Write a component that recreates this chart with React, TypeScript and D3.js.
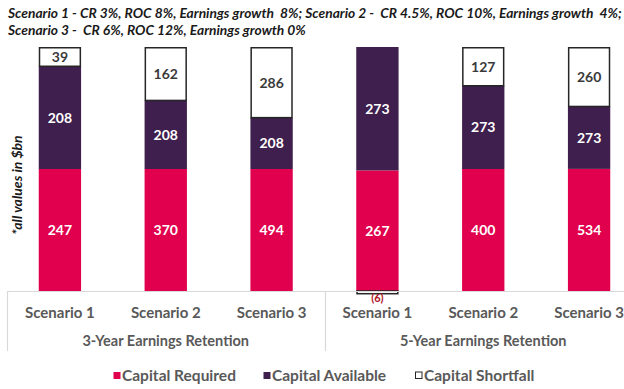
import React from "react";
import * as d3 from "d3";

const scenarios = ["Scenario 1", "Scenario 2", "Scenario 3", "Scenario 1", "Scenario 2", "Scenario 3"];
const groups = ["3-Year Earnings Retention", "5-Year Earnings Retention"];
const required = [247, 370, 494, 267, 400, 534];
const available = [208, 208, 208, 273, 273, 273];
const shortfall = [39, 162, 286, -6, 127, 260];
const seriesNames = ["Capital Required", "Capital Available", "Capital Shortfall"];
const titleLines = [
  "Scenario 1 - CR 3%, ROC 8%, Earnings growth  8%; Scenario 2 -  CR 4.5%, ROC 10%, Earnings growth  4%;",
  "Scenario 3 -  CR 6%, ROC 12%, Earnings growth 0%",
];

const W = 624;
const H = 389;
const RED = "#E0004D";
const PURPLE = "#3F1F4E";
const FONT = "Lato, 'Open Sans', sans-serif";

const App = () => {
  const x = d3
    .scaleBand<number>()
    .domain(d3.range(scenarios.length))
    .range([7, 642])
    .paddingInner(0.6)
    .paddingOuter(0.3);
  // every bar is shown as share of its positive total
  const y = d3.scaleLinear().domain([0, 1]).range([291, 47]);

  const rows = scenarios.map((s, i) => {
    const total = required[i] + available[i] + Math.max(shortfall[i], 0);
    return { i, r: required[i] / total, a: available[i] / total, s: shortfall[i] / total };
  });

  const bw = x.bandwidth();

  return (
    <svg width={W} height={H} style={{ position: "absolute", left: 0, top: 0, fontFamily: FONT }}>
      <rect width={W} height={H} fill="#fff" />
      {titleLines.map((t, k) => (
        <text
          key={k}
          x={8}
          y={18 + k * 16.5}
          fontSize={13.8}
          fontStyle="italic"
          fontWeight="bold"
          fill="#1a1a1a"
          style={{ whiteSpace: "pre" }}
        >
          {t}
        </text>
      ))}
      <text
        transform="translate(22,185) rotate(-90)"
        textAnchor="middle"
        fontSize={14}
        fontStyle="italic"
        fontWeight="bold"
        fill="#1a1a1a"
      >
        *all values in $bn
      </text>

      {rows.map(d => {
        const x0 = x(d.i)!;
        const cx = x0 + bw / 2;
        const yR = y(d.r);
        const yA = y(d.r + d.a);
        const yS = y(d.r + d.a + Math.max(d.s, 0));
        return (
          <g key={d.i}>
            <rect x={x0} y={yR} width={bw} height={y(0) - yR} fill={RED} />
            <rect x={x0} y={yA} width={bw} height={yR - yA} fill={PURPLE} />
            {d.s > 0 ? (
              <rect x={x0 + 0.75} y={yS + 0.75} width={bw - 1.5} height={yA - yS - 0.75} fill="#fff" stroke="#262626" strokeWidth={1.5} />
            ) : (
              <rect x={x0 + 0.75} y={y(0)} width={bw - 1.5} height={y(d.s) - y(0)} fill="#fff" stroke="#262626" strokeWidth={1.5} />
            )}
            <text x={cx} y={(yR + y(0)) / 2} dy="0.35em" textAnchor="middle" fill="#fff" fontWeight="bold" fontSize={14}>
              {required[d.i]}
            </text>
            <text x={cx} y={(yA + yR) / 2} dy="0.35em" textAnchor="middle" fill="#fff" fontWeight="bold" fontSize={14}>
              {available[d.i]}
            </text>
            {d.s > 0 ? (
              <text x={cx} y={(yS + yA) / 2 + 0.5} dy="0.35em" textAnchor="middle" fill="#3a3a3a" fontWeight="bold" fontSize={14}>
                {shortfall[d.i]}
              </text>
            ) : (
              <text x={cx} y={298.5} dy="0.35em" textAnchor="middle" fill="#B0141E" fontWeight="bold" fontSize={11}>
                ({Math.abs(shortfall[d.i])})
              </text>
            )}
            <text x={cx} y={313} dy="0.35em" textAnchor="middle" fill="#595959" fontWeight="bold" fontSize={15}>
              {scenarios[d.i]}
            </text>
          </g>
        );
      })}

      <line x1={7} x2={W} y1={291.5} y2={291.5} stroke="#d9d9d9" strokeWidth={1.2} />
      {[0, 3].map(k => {
        const sx = Math.round(x(k)! - x.step() * 0.3) + 0.5;
        return <line key={k} x1={sx} x2={sx} y1={291} y2={351} stroke="#d9d9d9" strokeWidth={1.2} />;
      })}
      {groups.map((g, k) => (
        <text
          key={g}
          x={(x(k * 3)! + x(k * 3 + 2)! + bw) / 2}
          y={341}
          dy="0.35em"
          textAnchor="middle"
          fill="#595959"
          fontWeight="bold"
          fontSize={14.5}
        >
          {g}
        </text>
      ))}

      {seriesNames.map((n, k) => {
        const lx = [113, 263, 415][k];
        return (
          <g key={n} transform={`translate(${lx},376)`}>
            <rect
              x={0.5}
              y={-4}
              width={k === 2 ? 6.5 : 7}
              height={k === 2 ? 6.5 : 7}
              fill={k === 0 ? RED : k === 1 ? PURPLE : "#fff"}
              stroke={k === 2 ? "#262626" : "none"}
              strokeWidth={1}
            />
            <text x={9} y={0} dy="0.35em" fill="#595959" fontWeight="bold" fontSize={15.5}>
              {n}
            </text>
          </g>
        );
      })}
    </svg>
  );
};

export default App;
